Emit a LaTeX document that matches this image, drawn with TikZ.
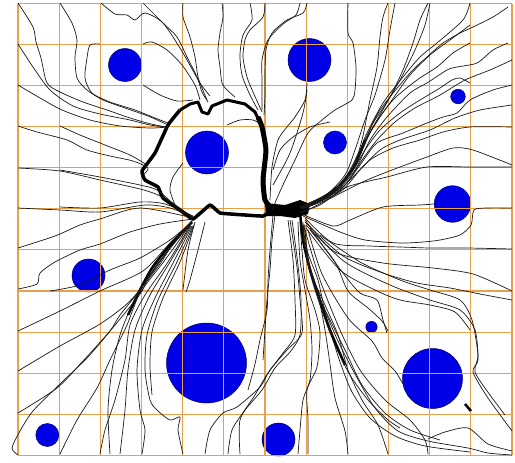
\documentclass[tikz,border=0pt]{standalone}
\begin{document}
\begin{tikzpicture}[x=1pt,y=-1pt,
  trj/.style={draw=black!90,line width=0.7pt,line join=round},
  thickb/.style={draw=black,line width=3.5pt,line join=round},
  obst/.style={fill={rgb,255:red,0;green,0;blue,230},draw={rgb,255:red,0;green,0;blue,110},line width=0.5pt},
  gridl/.style={draw={rgb,255:red,234;green,160;blue,75},line width=1.1pt}]
\newcommand\trj[1]{\draw[trj] plot[smooth,tension=0.45] coordinates {#1};}
\useasboundingbox (0,0) rectangle (515,463);
\fill[white] (0,0) rectangle (515,463);
% obstacles
\path[obst] (125,65) circle[radius=16.5pt];
\path[obst] (309.5,60) circle[radius=21.5pt];
\path[obst] (458,96.5) circle[radius=7.3pt];
\path[obst] (207,152.5) circle[radius=21.5pt];
\path[obst] (335,142.5) circle[radius=11.5pt];
\path[obst] (452.5,204) circle[radius=18.3pt];
\path[obst] (88.5,275.5) circle[radius=16.5pt];
\path[obst] (206.5,363) circle[radius=40pt];
\path[obst] (371.5,327) circle[radius=5.7pt];
\path[obst] (432.5,378.5) circle[radius=30pt];
\path[obst] (47.3,435) circle[radius=11.5pt];
\path[obst] (278.5,439.5) circle[radius=16.5pt];
% grid
\foreach \i in {0,...,12} \draw[gridl] ({18+41.17*\i},3.5) -- ({18+41.17*\i},455.3);
\foreach \j in {0,...,11} \draw[gridl] (18,{3.5+41.07*\j}) -- (512,{3.5+41.07*\j});
% thick bundles
\draw[thickb,line width=3pt] (180,110) -- (190,104) -- (198,102) -- (202,112) -- (208,114) -- (212,106) -- (227,100) -- (245,104) -- (255,112) -- (262,127);
\draw[thickb,line width=5pt] plot[smooth,tension=0.3] coordinates {(258,117)(262,127)(266,150)(263,180)(265,200)(273,210)};
\draw[thickb] plot[smooth,tension=0.2] coordinates {(180,110)(168,125)(155,153)(142,171)(145,180)(158,187)(163,198)(180,210)(193,219)(210,205)(220,213)(245,215)(263,216)(273,210)};
\fill[black] (265,203) -- (285,205) -- (300,200) -- (310,204) -- (308,214) -- (295,218) -- (280,216) -- (266,216) -- cycle;
\draw[thickb,line width=2.5pt] plot[smooth,tension=0.4] coordinates {(300,212)(303,240)(310,270)(320,300)(330,330)(345,365)};
\draw[thickb,line width=2.5pt] plot[smooth,tension=0.4] coordinates {(192,222)(170,245)(152,268)(140,290)(128,315)};
\draw[thickb,line width=2.5pt] plot[smooth,tension=0.4] coordinates {(302,207)(322,198)(340,185)(355,165)(365,140)};
% top-left group
\trj{(18,3)(33,27)(36,42)(41,58)(47,83)(60,92)(83,102)(107,110)(127,117)(147,123)(165,127)}
\trj{(60,3)(72,23)(77,40)(75,57)(77,78)(87,90)(103,100)(125,108)(148,116)(166,124)}
\trj{(100,44)(90,45)(87,58)(85,78)(92,93)(110,102)(135,110)(155,118)(168,123)}
\trj{(18,44)(33,67)(50,90)(73,106)(100,114)(130,120)(150,125)(167,127)}
\trj{(18,85)(40,98)(62,110)(90,120)(120,126)(150,128)(168,127)}
\trj{(18,126)(37,132)(67,140)(87,150)(110,156)(133,161)(148,168)(143,175)}
\trj{(60,126)(80,135)(105,145)(130,155)(147,165)}
\trj{(18,168)(60,171)(100,180)(140,189)(158,195)(178,207)(193,218)}
\trj{(60,170)(100,177)(140,185)(157,190)(175,205)(193,217)}
\trj{(18,208)(60,210)(100,212)(145,205)(170,208)(193,217)}
\trj{(60,207)(100,208)(140,202)(165,204)(193,216)}
\trj{(18,248)(55,236)(80,225)(100,219)(140,208)(193,218)}
\trj{(18,289)(37,284)(40,273)(55,262)(80,250)(100,244)(130,232)(160,224)(193,219)}
% top group
\trj{(101,3)(115,14)(127,15)(135,20)(145,13)(163,23)(183,53)(200,83)(210,96)}
\trj{(143,3)(163,23)(177,37)(187,57)(197,77)(202,92)(208,102)}
\trj{(143,44)(152,42)(167,50)(182,65)(195,85)(200,100)}
\trj{(143,85)(160,95)(177,101)(193,100)}
\trj{(183,3)(183,17)(190,37)(195,57)(198,77)(202,88)(207,100)}
\trj{(222,3)(223,17)(220,33)(218,50)(220,67)(222,83)(227,90)(235,97)}
\trj{(265,3)(263,17)(250,30)(245,40)(243,57)(247,77)(253,92)(262,112)}
\trj{(307,3)(303,13)(287,20)(272,33)(266,50)(265,75)(265,95)(264,115)}
\trj{(300,3)(296,15)(283,24)(268,40)(262,60)(262,80)(262,110)}
\trj{(250,3)(252,20)(243,35)(240,55)(242,75)(250,95)(258,110)}
\trj{(348,3)(348,33)(353,43)(356,67)(355,90)(352,100)(335,110)(322,120)(308,133)(295,160)(282,187)(272,210)}
\trj{(307,83)(305,100)(295,117)(287,127)(278,140)(272,167)(270,200)}
\trj{(227,125)(240,120)(253,120)(262,125)}
\trj{(307,90)(303,113)(290,153)(273,185)}
\trj{(273,170)(280,150)(293,137)(310,127)(330,122)}
\trj{(183,163)(173,177)(170,190)(175,205)}
% upper right fan
\trj{(388,3)(383,17)(380,37)(377,67)(370,100)(362,140)(352,170)(335,190)(318,200)(300,207)}
\trj{(428,3)(420,20)(413,43)(403,70)(390,97)(373,127)(360,150)(347,175)(330,193)(300,207)}
\trj{(470,3)(463,20)(437,43)(420,57)(403,77)(383,103)(366,135)(355,163)(337,188)(300,208)}
\trj{(508,7)(493,17)(473,27)(460,33)(443,43)(427,57)(410,73)(380,110)(365,140)(350,172)(330,195)(300,208)}
\trj{(470,43)(453,53)(437,67)(417,80)(393,100)(373,127)(360,155)(345,180)(325,198)(300,208)}
\trj{(508,43)(493,50)(477,63)(457,67)(447,70)(427,83)(410,93)(387,117)(370,140)(355,170)(335,192)(302,208)}
\trj{(512,85)(493,90)(470,100)(457,113)(443,117)(427,123)(403,133)(377,143)(360,165)(340,190)(302,208)}
\trj{(512,127)(470,127)(443,132)(420,140)(393,148)(370,160)(350,180)(330,198)(302,209)}
\trj{(470,83)(460,78)(452,80)(440,88)(420,100)(400,113)(380,130)(365,150)(350,175)(330,196)(303,208)}
\trj{(430,3)(425,25)(415,50)(400,80)(385,105)(372,125)(362,150)(348,176)(328,196)(301,208)}
\trj{(395,3)(390,30)(385,60)(375,95)(365,120)(355,150)(345,175)(325,196)(300,208)}
\trj{(512,105)(480,110)(455,118)(430,130)(400,140)(380,150)(360,170)(340,192)(302,209)}
\trj{(470,25)(450,40)(430,55)(410,75)(392,100)(378,120)(363,145)(350,172)(330,196)(302,208)}
\trj{(512,60)(490,70)(465,80)(440,95)(415,108)(395,122)(377,140)(362,160)(345,185)(320,200)}
% right side
\trj{(300,212)(320,205)(347,187)(387,177)(427,167)(470,167)(512,167)}
\trj{(302,213)(333,197)(367,180)(400,167)(427,157)(453,148)(473,150)(512,165)}
\trj{(302,214)(333,226)(350,220)(383,207)(420,205)(434,204)}
\trj{(303,216)(340,232)(365,240)(400,243)(423,242)(440,240)(460,235)(471,225)(474,210)(487,208)(512,208)}
\trj{(305,218)(333,243)(370,246)(400,247)(430,248)(467,248)(512,249)}
\trj{(305,220)(335,252)(383,263)(433,268)(473,274)(512,291)}
\trj{(305,222)(343,256)(383,273)(417,283)(450,288)(480,294)(512,300)}
\trj{(306,225)(345,262)(390,285)(430,300)(460,310)(475,330)(478,360)(473,372)(488,398)(512,431)}
\trj{(306,228)(340,270)(375,290)(400,300)(430,305)(455,312)(470,330)}
% lower from hub
\trj{(305,225)(307,250)(318,280)(325,310)(338,341)(355,374)(375,408)(398,431)(428,441)(468,448)(488,453)(512,455)}
\trj{(303,225)(306,255)(316,290)(330,320)(345,350)(362,385)(385,413)(410,430)(440,440)}
\trj{(303,222)(305,250)(312,280)(322,311)(335,345)(350,375)(368,400)(388,420)(400,428)}
\trj{(300,222)(302,250)(305,280)(315,310)(320,333)(317,367)(307,390)(308,420)(308,454)}
\trj{(298,222)(300,260)(305,290)(310,320)(312,350)(310,380)(303,400)(300,430)(298,454)}
\trj{(302,224)(307,260)(318,295)(325,330)(330,364)(335,398)(345,431)(348,454)}
\trj{(303,225)(310,270)(325,305)(338,335)(348,370)(362,400)(378,425)(388,454)}
\trj{(304,224)(309,262)(320,298)(330,330)(340,362)(352,392)(370,418)(395,436)(425,446)(470,452)}
\trj{(275,215)(272,240)(270,270)(267,300)(265,330)(263,360)}
\trj{(273,215)(270,250)(268,280)(267,310)(260,340)(255,364)(248,390)}
\trj{(290,220)(297,267)(300,300)(302,333)(287,350)(270,370)(260,387)(237,407)(223,413)(210,430)(205,454)}
\trj{(292,220)(298,265)(301,300)(300,335)(290,352)(275,368)(262,390)(245,410)(232,430)(228,454)}
\trj{(288,220)(293,260)(295,300)(295,335)(283,353)(268,373)(255,395)(240,420)(240,454)}
\trj{(308,230)(322,274)(348,318)(372,341)(382,358)(395,371)(403,384)}
\trj{(310,230)(335,262)(348,291)(368,308)(382,321)(388,331)}
\trj{(310,228)(343,273)(360,293)(377,300)(383,320)(387,333)}
\trj{(428,439)(445,432)(468,428)(488,444)(512,451)}
\trj{(320,235)(360,262)(400,280)(430,290)(460,300)(472,320)(478,355)(475,372)(490,395)(505,415)}
\trj{(305,230)(320,280)(340,330)(360,370)(385,400)(410,420)(425,440)(428,454)}
\draw[black,line width=2.5pt] (465,404) -- (471,411);
% lower-left fan
\trj{(193,220)(170,243)(143,271)(100,291)(60,311)(18,331)}
\trj{(192,222)(175,240)(160,264)(130,301)(100,324)(60,346)(18,371)}
\trj{(191,223)(170,248)(150,275)(140,294)(110,331)(83,361)(57,388)(18,413)}
\trj{(190,224)(165,255)(140,290)(120,315)(110,331)(87,358)(60,384)(33,411)(20,431)(12,448)(18,455)}
\trj{(190,225)(165,260)(140,293)(127,325)(110,360)(97,388)(77,420)(60,454)}
\trj{(190,226)(168,262)(145,295)(130,325)(125,360)(115,400)(105,430)(100,454)}
\trj{(191,226)(170,262)(150,295)(135,330)(128,370)(125,410)(120,454)}
\trj{(192,226)(172,265)(155,298)(142,330)(137,370)(140,410)(145,430)(142,454)}
\trj{(193,226)(177,262)(158,300)(147,335)(145,370)(150,400)(157,410)(170,420)(180,417)(178,430)(183,454)}
\trj{(194,225)(180,262)(163,298)(152,332)(150,365)(152,395)}
\trj{(191,224)(168,250)(146,280)(132,305)(120,335)(112,370)(108,410)(110,454)}
\trj{(195,222)(188,250)(183,290)}
\trj{(205,222)(198,250)(190,280)(186,292)}
\trj{(192,222)(170,240)(140,258)(110,270)(80,285)(50,291)}
\end{tikzpicture}
\end{document}
